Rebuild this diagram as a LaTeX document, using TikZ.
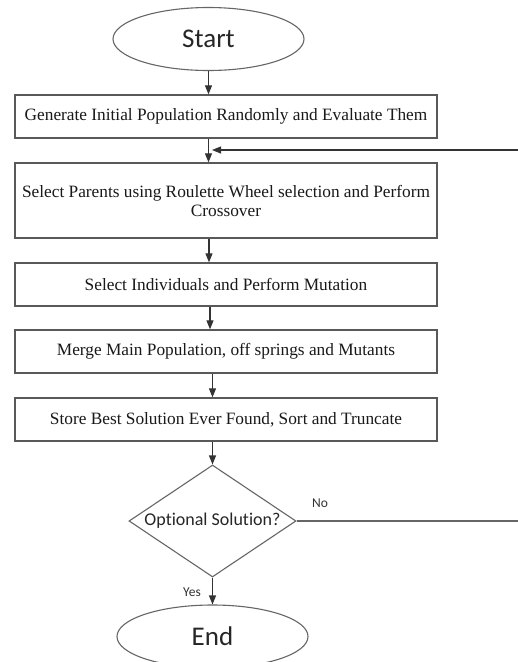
\documentclass[tikz,border=0pt]{standalone}
\usepackage{fontspec}
\setmainfont{Liberation Serif}
\newfontfamily\calib[Ligatures={NoCommon,NoContextual}]{Carlito}
\usetikzlibrary{shapes.geometric,arrows.meta}
\begin{document}
\begin{tikzpicture}[x=1pt,y=-1pt,
  procbox/.style={draw=black!65, line width=1.3pt, rectangle, minimum width=422pt, minimum height=43pt, inner sep=0pt, font=\fontsize{17.3}{19}\selectfont, align=center, text=black!90},
  term/.style={draw=black!60, line width=1.1pt, ellipse, minimum width=191pt, minimum height=63pt, inner sep=0pt, font=\calib\fontsize{27}{30}\selectfont, text=black!85},
  decide/.style={draw=black!60, line width=1.1pt, diamond, aspect=1.49, minimum width=167pt, minimum height=112pt, inner sep=0pt, font=\calib\fontsize{18}{20}\selectfont, text=black!85},
  arr/.style={draw=black!80, line width=1.1pt, -{Triangle[length=9pt,width=7pt]}},
  link/.style={draw=black!60, line width=1.1pt},
  lbl/.style={font=\calib\fontsize{13.5}{15}\selectfont, text=black!80, inner sep=0pt}
]
\useasboundingbox (0,0) rectangle (518,662);
\clip (0,0) rectangle (518,662);
\fill[white] (0,0) rectangle (518,662);

\node[term] (start) at (208.5,39) {Start};
\node[procbox] (b1) at (226,116.5) {Generate Initial Population Randomly and Evaluate Them};
\node[procbox, minimum height=75pt] (b2) at (226,200.5) {Select Parents using Roulette Wheel selection and Perform\\Crossover};
\node[procbox] (b3) at (226,284.5) {Select Individuals and Perform Mutation};
\node[procbox] (b4) at (226,351.5) {Merge Main Population, off springs and Mutants};
\node[procbox] (b5) at (226,419.5) {Store Best Solution Ever Found, Sort and Truncate};
\node[decide] (dia) at (212.5,521) {\raisebox{-7pt}{Optional Solution?}};
\node[term] (end) at (212.5,636.5) {End};

\node[lbl] (no) at (320,503) {No};
\node[lbl] (yes) at (192,592) {Yes};

\coordinate (fbtop) at (518,150);
\coordinate (fbin) at (212,150);
\coordinate (fbbot) at (518,521);

\draw[arr] (start.south) -- (start.south |- b1.north);
\draw[arr] (b1.south -| start) -- (b2.north -| start);
\draw[arr] ([xshift=-17pt]b2.south) -- ([xshift=-17pt]b3.north);
\draw[arr] ([xshift=-16pt]b3.south) -- ([xshift=-16pt]b4.north);
\draw[arr] (b4.south -| dia) -- (b5.north -| dia);
\draw[arr] (b5.south -| dia) -- (dia.north);
\draw[arr] (dia.south) -- (end.north);

\draw[link] (dia.east) -- (fbbot);
\draw[arr] (fbtop) -- (fbin);
\end{tikzpicture}
\end{document}
